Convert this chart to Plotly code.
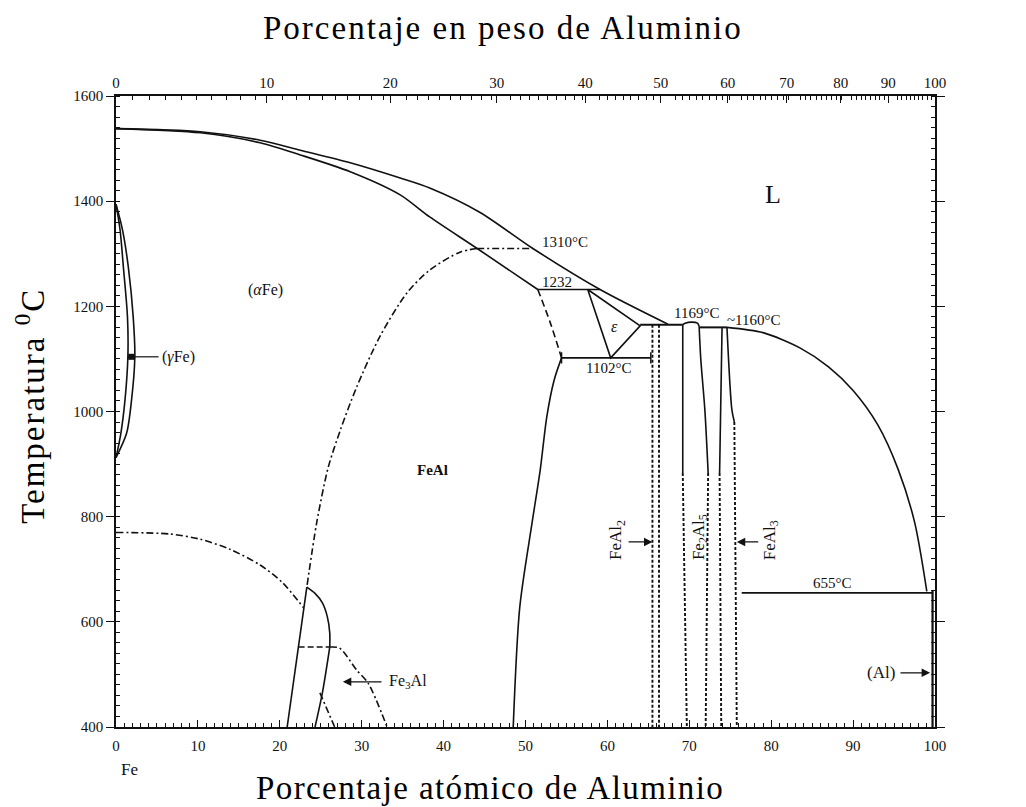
import plotly.graph_objects as go

# ---------------------------------------------------------------
# Fe-Al phase diagram (temperature vs. atomic % Al)
# ---------------------------------------------------------------
AL_MASS, FE_MASS = 26.98, 55.85


def wt_to_at(w):
    a = w / AL_MASS
    f = (100.0 - w) / FE_MASS
    return 100.0 * a / (a + f)


# axis ticks
at_ticks = [0, 10, 20, 30, 40, 50, 60, 70, 80, 90, 100]
temp_ticks = [400, 600, 800, 1000, 1200, 1400, 1600]
wt_labels = ["0", "10", "20", "30", "40", "50", "60", "70", "80", "90", "100"]
wt_label_at = [0, 18.4, 33.5, 46.5, 57.3, 66.5, 74.7, 81.9, 88.5, 94.3, 100]
wt_minor_at = [wt_to_at(w) for w in range(1, 100) if w % 10]

# liquidus, Fe side
liq_fe_x = [0, 10.3, 17.6, 22.5, 28.6, 34.7, 38.3, 44.4, 50.9, 59.1, 67.4]
liq_fe_t = [1538, 1532, 1516, 1497, 1473, 1444, 1425, 1379, 1310, 1232, 1166]
# solidus of (alpha Fe) / FeAl
sol_x = [0, 10.3, 17.6, 22.5, 28.6, 34.7, 38.3, 44.1, 51.5]
sol_t = [1538, 1530, 1511, 1488, 1456, 1412, 1370, 1310, 1232]
# liquidus, Al side
liq_al_x = [74.6, 79.0, 83.5, 87.0, 90.0, 93.0, 95.5, 97.5, 99.0]
liq_al_t = [1160, 1150, 1121, 1085, 1040, 975, 890, 790, 658]

# gamma loop
gam_in_x = [0, 0.5, 0.9, 1.4, 1.45, 1.1, 0.6, 0]
gam_in_t = [1394, 1345, 1275, 1180, 1104, 1022, 959, 912]
gam_out_x = [0, 0.8, 1.5, 2.1, 2.3, 1.9, 1.3, 0]
gam_out_t = [1394, 1345, 1275, 1180, 1104, 1022, 959, 912]

# magnetic transition
mag_x = [0, 6.6, 10.3, 13.9, 17.6, 20.3, 22.9]
mag_t = [770, 767, 757, 738, 708, 675, 627]

# B2 ordering dome
b2_x = [44.1, 42.0, 38.3, 35.5, 32.2, 29.4, 27.4, 25.9, 24.5, 23.3]
b2_t = [1310, 1303, 1269, 1225, 1142, 1047, 965, 893, 788, 666]
b2_top_x = [44.1, 50.9]
b2_top_t = [1310, 1310]

# Fe3Al region
fe3_left_x = [20.9, 23.3]
fe3_left_t = [400, 666]
fe3_dome_x = [23.3, 24.3, 25.2, 25.8, 26.1, 26.1]
fe3_dome_t = [666, 654, 636, 610, 579, 552]
fe3_right_x = [26.1, 25.2, 24.3]
fe3_right_t = [552, 465, 400]
fe3_tie_x = [22.3, 26.1]
fe3_tie_t = [552, 552]
do3_x = [26.1, 27.3, 29.4, 30.8, 33.1]
do3_t = [552, 550, 508, 483, 400]
do3_low_x = [24.9, 26.7]
do3_low_t = [465, 400]

# FeAl (B2) Al-rich boundary
feal_dash_x = [51.5, 53.0, 54.4]
feal_dash_t = [1232, 1170, 1102]
feal_sol_x = [54.4, 53.5, 52.6, 51.8, 50.8, 49.3, 48.5]
feal_sol_t = [1102, 1060, 990, 889, 788, 628, 400]

# invariant lines
per_1232_x = [51.5, 59.1]
eut_1102_x = [54.4, 65.3]
eut_1165_x = [64.0, 69.2]
per_1160_x = [71.2, 74.6]
eut_655_x = [76.4, 99.7]

# epsilon field
eps_x = [57.6, 64.0, 60.4, 57.6]
eps_t = [1232, 1163, 1102, 1232]

# FeAl2
feal2_a_x = [65.5, 65.5]
feal2_b_x = [66.3, 66.3]
feal2_t = [1165, 400]

# Fe2Al5
fe2al5_top_x = [69.2, 69.5, 70.3, 71.0, 71.2]
fe2al5_top_t = [1165, 1168, 1170, 1168, 1162]
fe2al5_l_x = [69.2, 69.2]
fe2al5_l_t = [1165, 883]
fe2al5_ld_x = [69.2, 69.7]
fe2al5_ld_t = [883, 400]
fe2al5_r_x = [71.2, 71.4, 71.9, 72.3]
fe2al5_r_t = [1162, 1100, 1003, 883]
fe2al5_rd_x = [72.3, 72.0]
fe2al5_rd_t = [883, 400]

# FeAl3
feal3_l_x = [74.0, 73.7]
feal3_l_t = [1160, 883]
feal3_ld_x = [73.7, 73.9]
feal3_ld_t = [883, 400]
feal3_r_x = [74.6, 75.2, 75.5]
feal3_r_t = [1160, 1003, 980]
feal3_rd_x = [75.5, 75.8]
feal3_rd_t = [980, 400]

# (Al) solvus
al_x = [99.7, 99.7]
al_t = [660, 400]

INK = "#111111"
SERIF = "Liberation Serif"
LW = 1.6

fig = go.Figure()


def curve(x, t, dash="solid", smooth=False, width=LW):
    fig.add_trace(go.Scatter(
        x=x, y=t, mode="lines",
        line=dict(color=INK, width=width, dash=dash,
                  shape="spline" if smooth else "linear",
                  smoothing=0.8),
        hoverinfo="skip"))


DOT = "3px,2px"
DASHDOT = "7px,3px,2px,3px"

curve(liq_fe_x, liq_fe_t, smooth=True)
curve(sol_x, sol_t, smooth=True)
curve(liq_al_x, liq_al_t, smooth=True)
curve(gam_in_x, gam_in_t, smooth=True)
curve(gam_out_x, gam_out_t, smooth=True)
curve(mag_x, mag_t, DASHDOT, smooth=True)
curve(b2_x, b2_t, DASHDOT, smooth=True)
curve(b2_top_x, b2_top_t, DASHDOT)
curve(fe3_left_x, fe3_left_t)
curve(fe3_dome_x, fe3_dome_t, smooth=True)
curve(fe3_right_x, fe3_right_t, smooth=True)
curve(fe3_tie_x, fe3_tie_t, "6px,3px")
curve(do3_x, do3_t, DASHDOT, smooth=True)
curve(do3_low_x, do3_low_t, DASHDOT)
curve(feal_dash_x, feal_dash_t, "7px,4px", smooth=True)
curve(feal_sol_x, feal_sol_t, smooth=True)
curve(per_1232_x, [1232, 1232])
curve(eut_1165_x, [1165, 1165], width=2.2)
curve(per_1160_x, [1160, 1160], width=2.0)
curve(eut_655_x, [655, 655])
curve(eps_x, eps_t)
curve(feal2_a_x, feal2_t, DOT, width=1.9)
curve(feal2_b_x, feal2_t, DOT, width=1.9)
curve(fe2al5_top_x, fe2al5_top_t, smooth=True)
curve(fe2al5_l_x, fe2al5_l_t)
curve(fe2al5_ld_x, fe2al5_ld_t, DOT, width=1.9)
curve(fe2al5_r_x, fe2al5_r_t, smooth=True)
curve(fe2al5_rd_x, fe2al5_rd_t, DOT, width=1.9)
curve(feal3_l_x, feal3_l_t)
curve(feal3_ld_x, feal3_ld_t, DOT, width=1.9)
curve(feal3_r_x, feal3_r_t, smooth=True)
curve(feal3_rd_x, feal3_rd_t, DOT, width=1.9)
curve(al_x, al_t, width=2.2)

# 1102 eutectoid with end bars
fig.add_trace(go.Scatter(
    x=eut_1102_x, y=[1102, 1102], mode="lines+markers",
    line=dict(color=INK, width=LW),
    marker=dict(symbol="line-ns", size=8, line=dict(color=INK, width=1.5)),
    hoverinfo="skip"))

# (gamma Fe) pointer
fig.add_trace(go.Scatter(
    x=[1.4, 5.2], y=[1104, 1104], mode="lines",
    line=dict(color=INK, width=1.2), hoverinfo="skip"))
fig.add_trace(go.Scatter(
    x=[1.85], y=[1104], mode="markers",
    marker=dict(symbol="square", size=6, color=INK), hoverinfo="skip"))

# invisible trace to hold the weight-percent axis
fig.add_trace(go.Scatter(x=[0, 100], y=[400, 400], xaxis="x2", mode="lines",
                         line=dict(width=0), opacity=0, hoverinfo="skip"))


def label(x, t, text, size=15, xanchor="center", angle=0, **kw):
    fig.add_annotation(x=x, y=t, text=text, showarrow=False, xanchor=xanchor,
                       yanchor="middle", textangle=angle,
                       font=dict(family=SERIF, size=size, color=INK), **kw)


def arrow(x_tip, t_tip, x_tail, t_tail):
    fig.add_annotation(x=x_tip, y=t_tip, ax=x_tail, ay=t_tail,
                       axref="x", ayref="y", text="", showarrow=True,
                       arrowhead=2, arrowsize=1.3, arrowwidth=1.3,
                       arrowcolor=INK)


# temperatures at the left axis
label(-1.0, 1541, "1538°C", xanchor="right")
label(-1.0, 1383, "1394°C", xanchor="right")
label(-1.0, 908, "912°C", xanchor="right")
label(-1.0, 771, "770°C", xanchor="right")
label(100.8, 670, "660.452°C", xanchor="left")

# invariant temperatures
label(51.8, 1322, "1310°C", xanchor="left")
label(51.8, 1246, "1232", xanchor="left")
label(70.9, 1187, "1169°C")
label(74.4, 1174, "~1160°C", xanchor="left")
label(60.1, 1083, "1102°C")
label(87.5, 674, "655°C")

# phase fields
label(18.2, 1231, "(<i>α</i>Fe)", size=16)
label(5.4, 1104, "(<i>γ</i>Fe)", size=16, xanchor="left")
label(38.7, 889, "<b>FeAl</b>", size=15)
label(80.2, 1412, "L", size=26)
label(60.9, 1161, "<i>ε</i>", size=16)
label(33.1, 486, "Fe<sub>3</sub>Al", size=16, xanchor="left")
label(95.4, 503, "(Al)", size=17, xanchor="right")
label(61.2, 756, "FeAl<sub>2</sub>", size=17, angle=-90)
label(71.3, 761, "Fe<sub>2</sub>Al<sub>5</sub>", size=17, angle=-90)
label(79.9, 756, "FeAl<sub>3</sub>", size=17, angle=-90)

arrow(65.5, 752, 62.4, 752)
arrow(75.8, 752, 78.6, 752)
arrow(27.7, 486, 32.6, 486)
arrow(99.4, 503, 95.6, 503)

# element labels under the composition axis
for ex, name in [(1.6, "Fe"), (100.3, "Al")]:
    fig.add_annotation(x=ex, y=-0.068, xref="x", yref="paper", text=name,
                       showarrow=False, xanchor="center", yanchor="middle",
                       font=dict(family=SERIF, size=17, color=INK))


# axis titles (slightly tracked serif)
def spaced(s, px=2):
    return '<span style="letter-spacing:%gpx">' % px + s + "</span>"


TITLE_FONT = dict(family=SERIF, size=33, color="#000000")
fig.add_annotation(x=0.4725, y=1.108, xref="paper", yref="paper",
                   text=spaced("Porcentaje en peso de Aluminio"),
                   showarrow=False, xanchor="center", yanchor="middle",
                   font=TITLE_FONT)
fig.add_annotation(x=0.457, y=-0.097, xref="paper", yref="paper",
                   text=spaced("Porcentaje atómico de Aluminio", 1.4),
                   showarrow=False, xanchor="center", yanchor="middle",
                   font=TITLE_FONT)
fig.add_annotation(x=-0.105, y=0.509, xref="paper", yref="paper",
                   text=spaced("Temperatura <sup>0</sup>C"), showarrow=False,
                   xanchor="center", yanchor="middle",
                   textangle=-90, font=TITLE_FONT)

TICK_FONT = dict(family=SERIF, size=15, color=INK)
fig.update_layout(
    width=1026, height=807,
    margin=dict(l=116, r=91, t=96, b=80),
    paper_bgcolor="white", plot_bgcolor="white",
    showlegend=False,
    xaxis=dict(range=[0, 100], tickvals=at_ticks, ticks="inside",
               ticklen=7, tickwidth=1.2, tickcolor=INK,
               minor=dict(dtick=1, ticks="inside", ticklen=4,
                          tickwidth=1, tickcolor=INK),
               showline=True, linecolor=INK, linewidth=1.6, mirror=True,
               showgrid=False, zeroline=False, tickfont=TICK_FONT,
               ticklabelstandoff=4),
    xaxis2=dict(range=[0, 100], overlaying="x", side="top",
                tickmode="array", tickvals=wt_label_at, ticktext=wt_labels,
                ticks="inside", ticklen=7, tickwidth=1.2, tickcolor=INK,
                minor=dict(tickmode="array", tickvals=wt_minor_at,
                           ticks="inside", ticklen=4, tickwidth=1,
                           tickcolor=INK),
                showline=True, linecolor=INK, linewidth=1.6,
                showgrid=False, zeroline=False, tickfont=TICK_FONT),
    yaxis=dict(range=[400, 1600], tickvals=temp_ticks, ticks="outside",
               ticklen=8, tickwidth=1.2, tickcolor=INK,
               minor=dict(dtick=20, ticks="inside", ticklen=4,
                          tickwidth=1, tickcolor=INK),
               showline=True, linecolor=INK, linewidth=1.6, mirror="ticks",
               showgrid=False, zeroline=False, tickfont=TICK_FONT),
)

fig.write_html("out.html")
